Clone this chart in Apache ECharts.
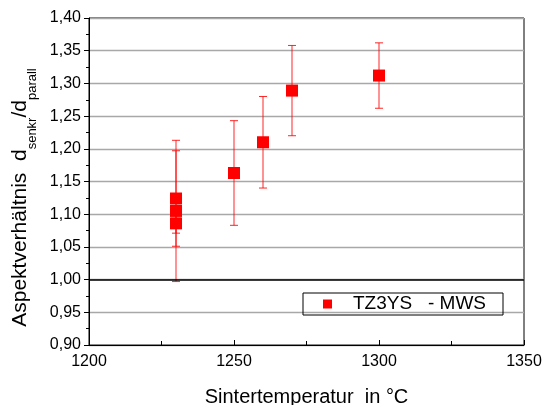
<!DOCTYPE html>
<html><head><meta charset="utf-8">
<script src="https://cdn.jsdelivr.net/npm/echarts@6/dist/echarts.min.js"></script>
<style>html,body{margin:0;padding:0;background:#fff}#c{width:551px;height:405px}</style>
</head><body><div id="c"></div>
<script>
const temps = [1230, 1230, 1230, 1250, 1260, 1270, 1300];
const ratios = [1.124, 1.105, 1.086, 1.163, 1.210, 1.289, 1.312];
const errors = [0.073, 0.108, 0.015, 0.080, 0.070, 0.069, 0.050];
const seriesName = 'TZ3YS   - MWS';
const xTicks = [1200, 1250, 1300, 1350];
const yMin = 0.90, yMax = 1.40, yStep = 0.05;

const font = 'Arial, "Liberation Sans", sans-serif';
const pts = temps.map((t, i) => [t, ratios[i]]);
const errData = temps.map((t, i) => [t, ratios[i] - errors[i], ratios[i] + errors[i]]);

const chart = echarts.init(document.getElementById('c'), null, {renderer: 'canvas'});
chart.setOption({
  animation: false,
  backgroundColor: '#fff',
  grid: {left: 89, right: 27, top: 18, bottom: 60, show: true, borderColor: '#000', borderWidth: 1,
         containLabel: false, outerBoundsMode: 'none'},
  legend: {
    left: 303, top: 293, width: 199,
    orient: 'horizontal',
    borderColor: '#000', borderWidth: 1, borderRadius: 0,
    padding: [1, 17, 1, 20],
    itemWidth: 9, itemHeight: 9,
    textStyle: {fontFamily: font, fontSize: 19, lineHeight: 20, color: '#000', padding: [0, 0, 0, 16]},
    data: [{name: seriesName, icon: 'rect'}]
  },
  xAxis: {
    type: 'value', min: xTicks[0], max: xTicks[xTicks.length - 1], interval: 50,
    name: 'Sintertemperatur  in °C', nameLocation: 'middle', nameGap: 42,
    nameTextStyle: {fontFamily: font, fontSize: 20, color: '#000'},
    axisLine: {show: true, onZero: false, lineStyle: {color: '#000', width: 1}},
    axisTick: {show: true, inside: true, length: 5, lineStyle: {color: '#000'}},
    minorTick: {show: true, splitNumber: 2, length: 4, lineStyle: {color: '#000'}},
    axisLabel: {fontFamily: font, fontSize: 16, color: '#000', margin: 9,
      formatter: v => String(v)},
    splitLine: {show: false}
  },
  yAxis: {
    type: 'value', min: yMin, max: yMax, interval: yStep,
    name: '{m|Aspektverhältnis  d}{s|senkr}{m|/d}{s|parall}',
    nameLocation: 'middle', nameGap: 57, nameRotate: 90,
    nameTextStyle: {
      fontFamily: font, fontSize: 21, color: '#000',
      padding: [0, 32, 0, 0],
      rich: {
        m: {fontFamily: font, fontSize: 21, color: '#000'},
        s: {fontFamily: font, fontSize: 13, color: '#000', verticalAlign: 'bottom', padding: [0, 0, -8, 0]}
      }
    },
    axisLine: {show: true, onZero: false, lineStyle: {color: '#000', width: 1}},
    axisTick: {show: true, inside: false, length: 5, lineStyle: {color: '#000'}},
    minorTick: {show: true, splitNumber: 2, length: 3, lineStyle: {color: '#000'}},
    axisLabel: {fontFamily: font, fontSize: 16, color: '#000', margin: 8,
      formatter: v => v.toFixed(2).replace('.', ',')},
    splitLine: {show: true, lineStyle: {color: '#a8a8a8', width: 1.3}}
  },
  series: [
    {
      type: 'custom', name: 'err', silent: true, z: 3,
      data: errData,
      renderItem: function (params, api) {
        const x = api.value(0);
        const lo = api.coord([x, api.value(1)]);
        const hi = api.coord([x, api.value(2)]);
        const cap = 4;
        const st = {stroke: '#ff0000', lineWidth: 1, opacity: 0.85};
        return {type: 'group', children: [
          {type: 'line', shape: {x1: lo[0], y1: lo[1], x2: hi[0], y2: hi[1]}, style: st},
          {type: 'line', shape: {x1: lo[0] - cap, y1: lo[1], x2: lo[0] + cap, y2: lo[1]}, style: st},
          {type: 'line', shape: {x1: hi[0] - cap, y1: hi[1], x2: hi[0] + cap, y2: hi[1]}, style: st}
        ]};
      }
    },
    {
      type: 'line', name: 'one', silent: true, data: [], z: 2,
      markLine: {
        silent: true, symbol: 'none', label: {show: false},
        lineStyle: {color: '#000', width: 1.5, type: 'solid'},
        data: [{yAxis: 1.0}]
      }
    },
    {
      type: 'scatter', name: seriesName, z: 5,
      symbol: 'rect', symbolSize: 12,
      itemStyle: {color: '#ff0000', opacity: 1},
      data: pts
    }
  ]
});
</script></body></html>
